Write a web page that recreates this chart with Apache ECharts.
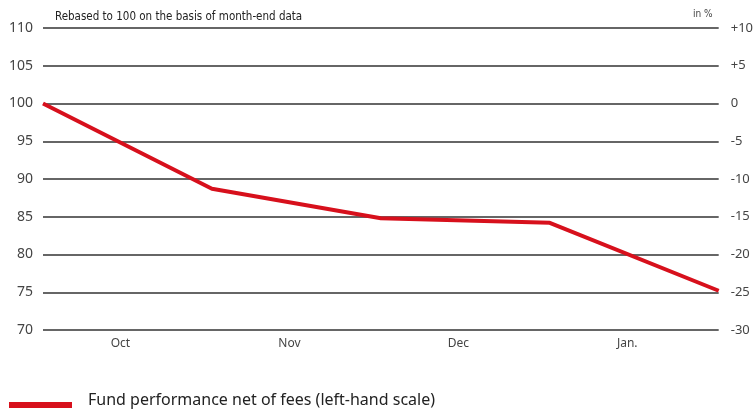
<!DOCTYPE html>
<html>
<head>
<meta charset="utf-8">
<script src="https://cdn.jsdelivr.net/npm/echarts@6/dist/echarts.min.js"></script>
<style>html,body{margin:0;padding:0;background:#fff;}#c{width:756px;height:410px;}</style>
</head>
<body>
<div id="c"></div>
<script>
var pointLabels = ['Sep end', 'Oct end', 'Nov end', 'Dec end', 'Jan end'];
var fundValues = [100, 88.7, 84.8, 84.2, 75.2];
var monthLabels = ['Oct', 'Nov', 'Dec', 'Jan.'];
var leftTicks = [70, 75, 80, 85, 90, 95, 100, 105, 110];
var rightTicks = [-30, -25, -20, -15, -10, -5, 0, 5, 10];
var seriesName = 'Fund performance net of fees (left-hand scale)';
var noteLeft = 'Rebased to 100 on the basis of month-end data';
var noteRight = 'in %';
var lineColor = '#d7101c';

var chart = echarts.init(document.getElementById('c'));
var labelFont = 'Noto Sans';
var narrowFont = "'DejaVu Sans Condensed', 'Liberation Sans', sans-serif";
chart.setOption({
  animation: false,
  backgroundColor: '#fff',
  grid: { left: 43, right: 35, top: 28, bottom: 80 },
  title: [
    { text: noteLeft, left: 50, top: 6, textStyle: { fontFamily: narrowFont, fontSize: 11.5, fontWeight: 'normal', color: '#222' } },
    { text: noteRight, left: 688, top: 4, textStyle: { fontFamily: narrowFont, fontSize: 10, fontWeight: 'normal', color: '#444' } }
  ],
  graphic: [
    { type: 'rect', left: 9, top: 402, shape: { width: 63, height: 6 }, style: { fill: lineColor } },
    { type: 'text', left: 88, top: 392, style: { text: seriesName, fontFamily: labelFont, fontSize: 16, fill: '#222' } }
  ],
  xAxis: [
    { type: 'category', data: pointLabels, boundaryGap: false,
      axisLine: { show: false }, axisTick: { show: false }, axisLabel: { show: false }, splitLine: { show: false } },
    { type: 'category', data: monthLabels, boundaryGap: true, position: 'bottom',
      axisLine: { show: false }, axisTick: { show: false }, splitLine: { show: false },
      axisLabel: { fontFamily: labelFont, fontSize: 12, color: '#444', margin: 8, padding: [0, 14, 0, 0] } }
  ],
  yAxis: [
    { type: 'value', min: leftTicks[0], max: leftTicks[leftTicks.length - 1], interval: 5,
      axisLine: { show: false }, axisTick: { show: false },
      axisLabel: { fontFamily: labelFont, fontSize: 14, color: '#444', margin: 10 },
      splitLine: { show: true, lineStyle: { color: '#333', width: 1.5 } } },
    { type: 'value', min: rightTicks[0], max: rightTicks[rightTicks.length - 1], interval: 5,
      axisLine: { show: false }, axisTick: { show: false },
      axisLabel: { fontFamily: labelFont, fontSize: 13, color: '#444', margin: 12,
        formatter: function (v) { return v > 0 ? '+' + v : String(v); } },
      splitLine: { show: false } }
  ],
  series: [
    { name: seriesName, type: 'line', xAxisIndex: 0, yAxisIndex: 0, data: fundValues,
      symbol: 'none', lineStyle: { color: lineColor, width: 4 }, itemStyle: { color: lineColor } }
  ]
});
</script>
</body>
</html>
